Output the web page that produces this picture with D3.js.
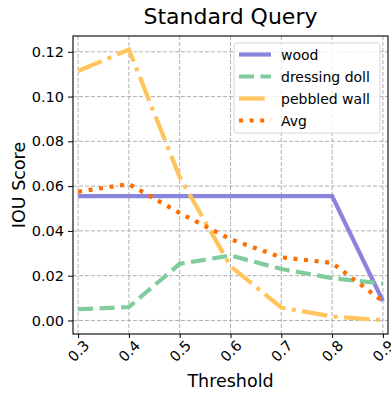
<!DOCTYPE html>
<html>
<head>
<meta charset="utf-8">
<script src="https://cdn.jsdelivr.net/npm/d3@7"></script>
<style>
  body { margin: 0; background: #fff; }
  text { font-family: "DejaVu Sans", sans-serif; fill: #000; }
</style>
</head>
<body>
<svg id="chart"></svg>
<script>
// data
const thresholds = [0.3, 0.4, 0.5, 0.6, 0.7, 0.8, 0.9];
const wood = [0.0555, 0.0555, 0.0555, 0.0555, 0.0555, 0.0555, 0.0087];
const dressingDoll = [0.005, 0.006, 0.0253, 0.029, 0.023, 0.0189, 0.0165];
const pebbledWall = [0.1114, 0.121, 0.064, 0.0242, 0.0058, 0.0018, 0.0001];
const avg = [0.0575, 0.0609, 0.048, 0.0363, 0.0282, 0.0257, 0.0085];
const yTicks = [0, 0.02, 0.04, 0.06, 0.08, 0.1, 0.12];

const series = [
    { name: "wood", values: wood, color: "#8b84dc", dash: null },
    { name: "dressing doll", values: dressingDoll, color: "#80cc9d", dash: "15,6.5" },
    { name: "pebbled wall", values: pebbledWall, color: "#ffc55c", dash: "25.6,6.4,4,6.4" },
    { name: "Avg", values: avg, color: "#ff6d00", dash: "4,6.6" }
];

var W = 391, H = 395;
var margin = { top: 36, right: 3, bottom: 61, left: 73 };
var width = W - margin.left - margin.right;
var height = H - margin.top - margin.bottom;

const svg = d3.select("#chart")
    .attr("width", W)
    .attr("height", H)
    .append("g")
    .attr("transform", `translate(${margin.left},${margin.top})`);

const x = d3.scaleLinear().domain([0.29, 0.91]).range([0, width]);
const y = d3.scaleLinear().domain([-0.00605, 0.12705]).range([height, 0]);

// grid
svg.append("g").selectAll("line")
    .data(thresholds).join("line")
    .attr("x1", d => x(d)).attr("x2", d => x(d))
    .attr("y1", 0).attr("y2", height)
    .attr("stroke", "#b0b0b0").attr("stroke-width", 1)
    .attr("stroke-dasharray", "4,2");
svg.append("g").selectAll("line")
    .data(yTicks).join("line")
    .attr("y1", d => y(d)).attr("y2", d => y(d))
    .attr("x1", 0).attr("x2", width)
    .attr("stroke", "#b0b0b0").attr("stroke-width", 1)
    .attr("stroke-dasharray", "4,2");

// lines
const line = d3.line()
    .x((d, i) => x(thresholds[i]))
    .y(d => y(d));

series.forEach(s => {
    svg.append("path")
        .datum(s.values)
        .attr("d", line)
        .attr("fill", "none")
        .attr("stroke", s.color)
        .attr("stroke-width", 4.2)
        .attr("stroke-dasharray", s.dash);
});

// frame
svg.append("rect")
    .attr("width", width).attr("height", height)
    .attr("fill", "none").attr("stroke", "#000").attr("stroke-width", 1.1);

// axes
const xAxis = svg.append("g")
    .attr("transform", `translate(0,${height})`)
    .call(d3.axisBottom(x).tickValues(thresholds).tickFormat(d3.format(".1f")).tickSize(4));
xAxis.select(".domain").remove();
xAxis.selectAll("text")
    .style("font-size", "14.5px")
    .attr("text-anchor", "middle")
    .attr("y", 0)
    .attr("dy", "0.35em")
    .attr("transform", "translate(0,17) rotate(-45)");

const yAxis = svg.append("g")
    .call(d3.axisLeft(y).tickValues(yTicks).tickFormat(d3.format(".2f")).tickSize(5).tickPadding(4));
yAxis.select(".domain").remove();
yAxis.selectAll("text").style("font-size", "14.5px");

// labels
svg.append("text")
    .attr("x", width / 2)
    .attr("y", -12)
    .attr("text-anchor", "middle")
    .style("font-size", "22px")
    .text("Standard Query");

svg.append("text")
    .attr("x", width / 2)
    .attr("y", height + 53)
    .attr("text-anchor", "middle")
    .style("font-size", "17.5px")
    .text("Threshold");

svg.append("text")
    .attr("transform", "rotate(-90)")
    .attr("x", -height / 2)
    .attr("y", -48)
    .attr("text-anchor", "middle")
    .style("font-size", "17.5px")
    .text("IOU Score");

// legend
const lg = svg.append("g").attr("transform", `translate(${234 - margin.left},${43 - margin.top})`);
lg.append("rect")
    .attr("width", 146).attr("height", 90)
    .attr("rx", 3)
    .attr("fill", "#fff").attr("fill-opacity", 0.8)
    .attr("stroke", "#d6d6d6");
series.forEach((s, i) => {
    const ly = 11.5 + i * 22;
    lg.append("line")
        .attr("x1", 5).attr("x2", 37)
        .attr("y1", ly).attr("y2", ly)
        .attr("stroke", s.color).attr("stroke-width", 4.2)
        .attr("stroke-dasharray", s.dash);
    lg.append("text")
        .attr("x", 47).attr("y", ly + 5)
        .style("font-size", "14px")
        .text(s.name);
});
</script>
</body>
</html>
